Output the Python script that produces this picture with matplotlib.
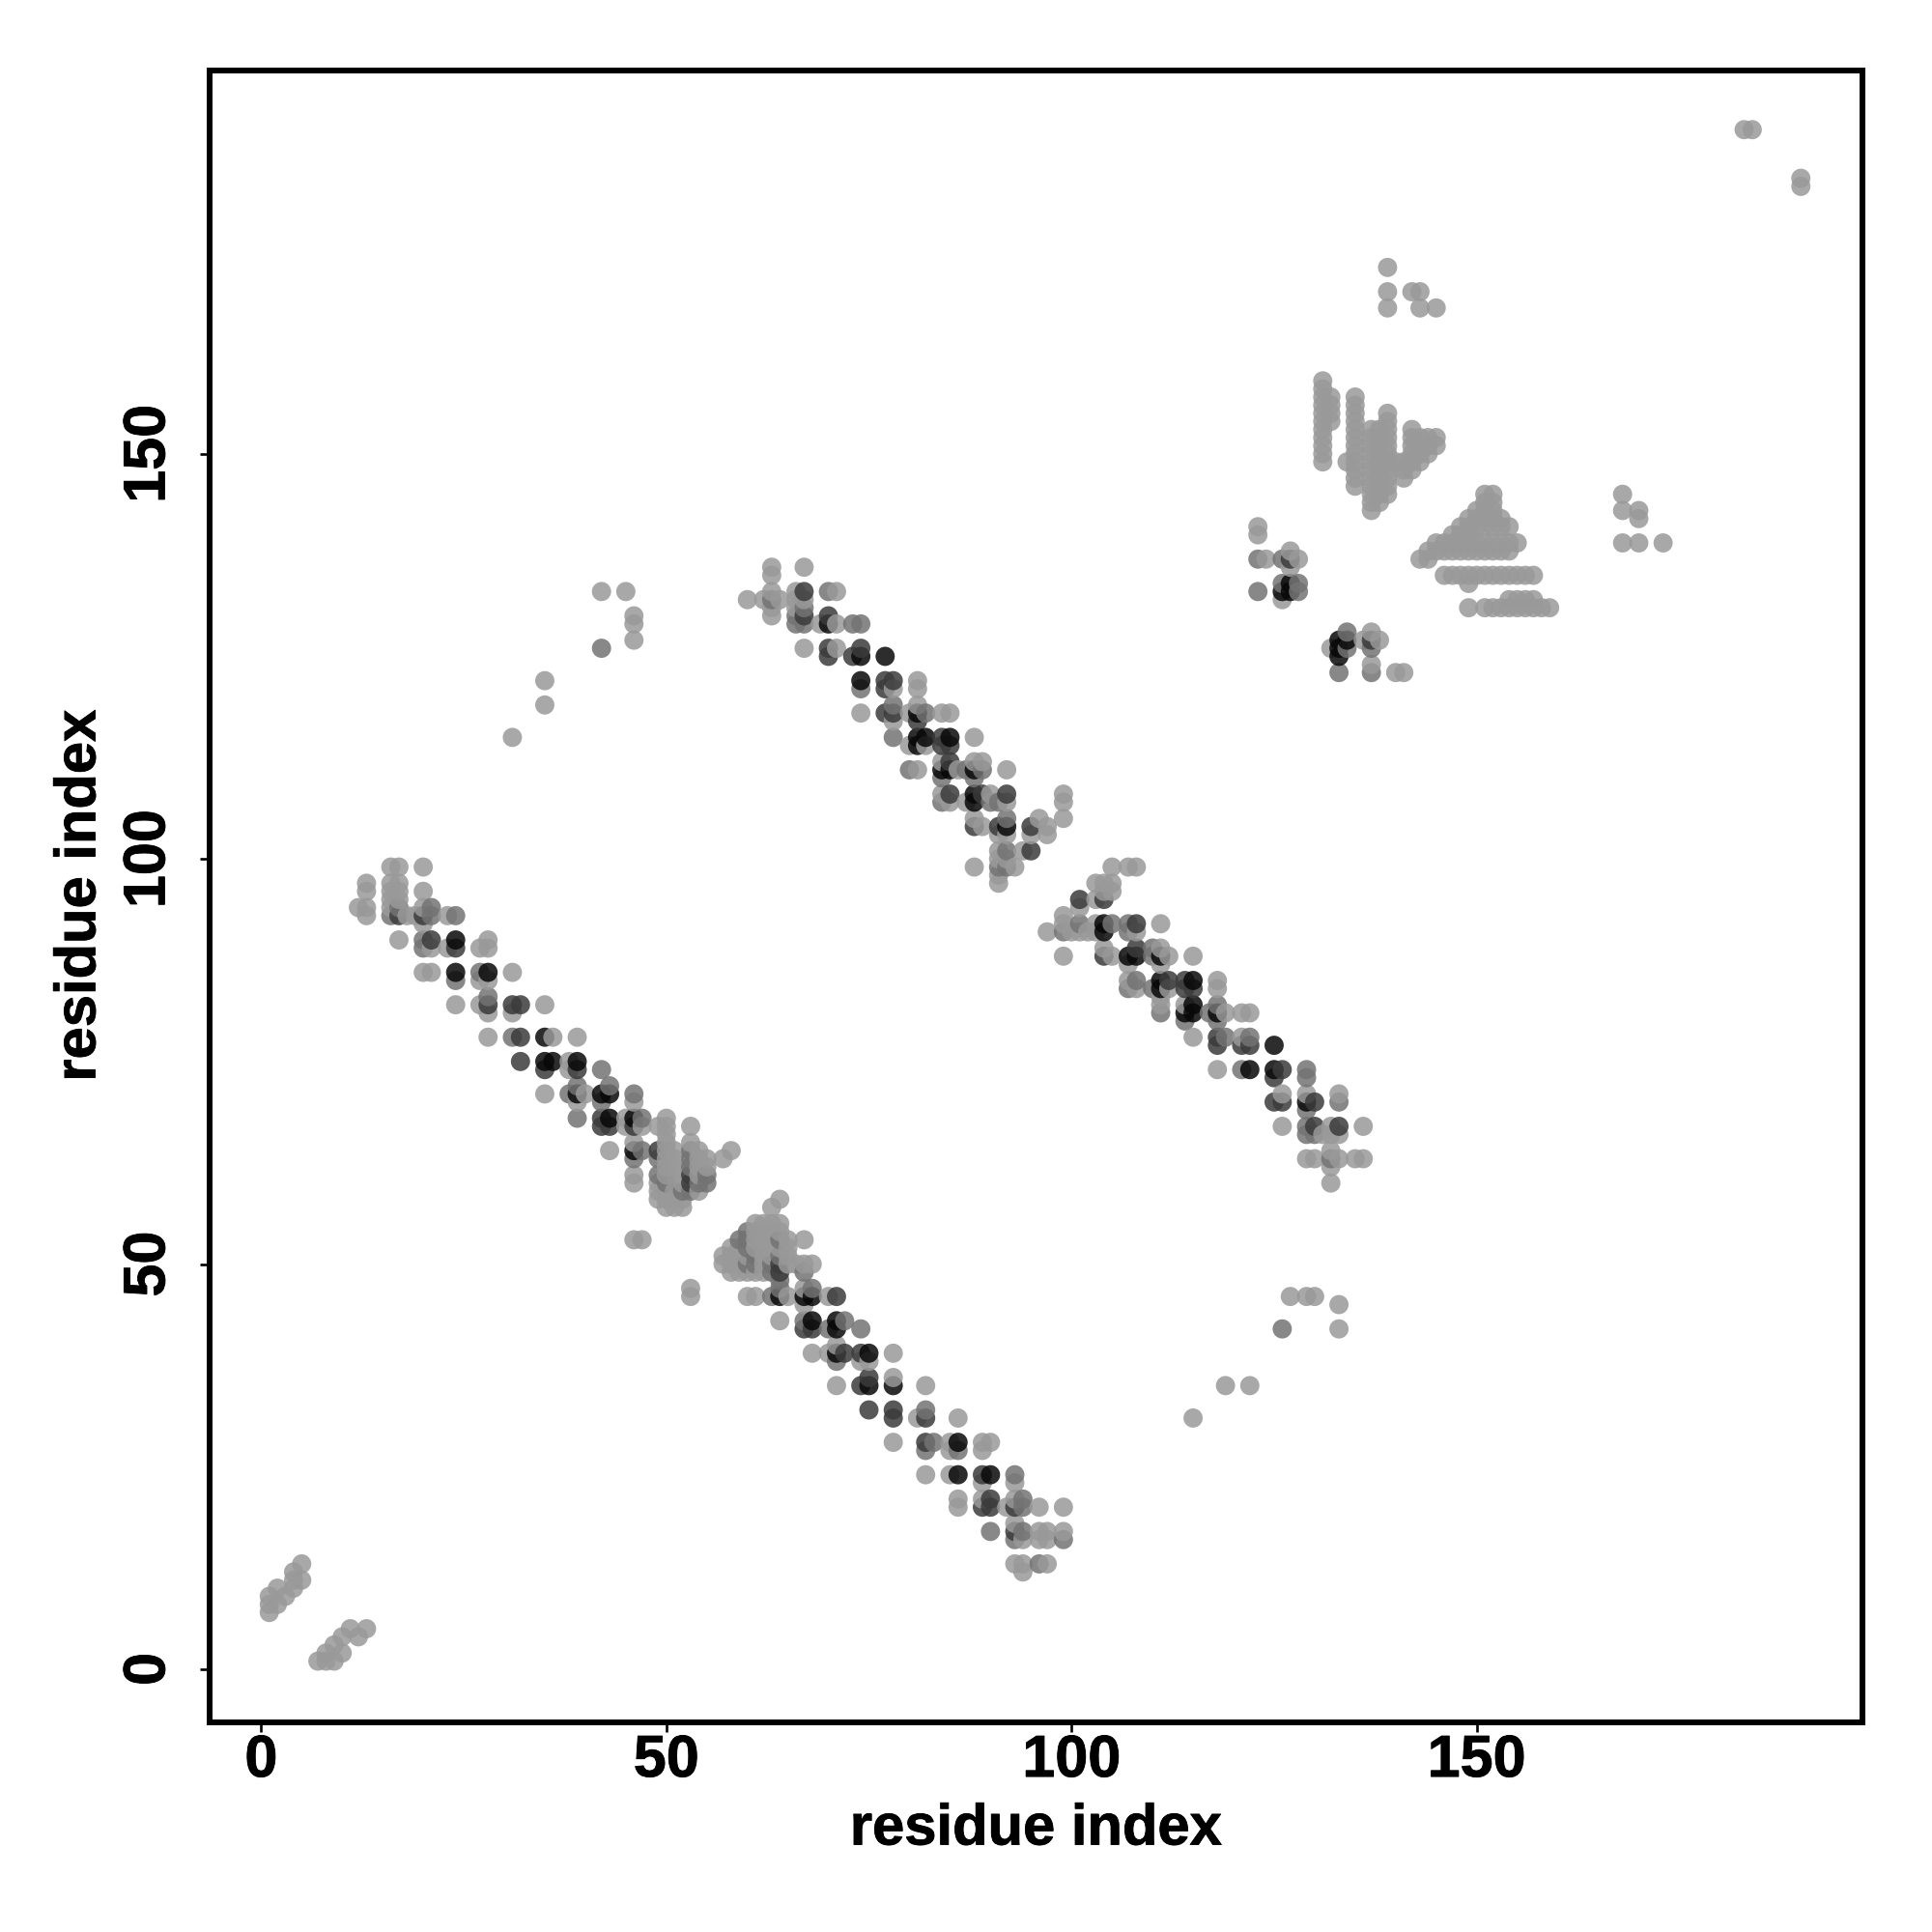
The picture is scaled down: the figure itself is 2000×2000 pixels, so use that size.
import matplotlib
matplotlib.use("Agg")
import matplotlib.pyplot as plt
import matplotlib.patheffects as pe

plt.rcParams['font.family'] = ['Liberation Sans', 'DejaVu Sans']

# ---- data: each row is one y value, its x values and a darkness code per point ----
strand1_y = [99, 97, 96, 95, 94, 93, 92, 90, 89, 86, 85, 83, 82, 81, 78, 75, 74, 72, 71, 70, 68, 67,
             66, 65, 64, 63, 62, 61, 60, 59, 58, 57, 53, 47, 46]
strand1_x = [[16, 17, 20], [13, 16, 17], [13, 16, 17, 20], [16, 17], [12, 13, 16, 17, 20, 21],
             [13, 16, 17, 18, 19, 20, 21, 23, 24], [20], [17, 20, 21, 24, 28], [20, 21, 23, 24, 27, 28],
             [20, 21, 24, 27, 28, 31], [24, 27, 28], [28], [24, 27, 28, 31, 32, 35], [28, 31],
             [28, 31, 32, 35, 36, 39], [32, 35, 36, 38, 39], [35, 38, 39, 42], [39, 43],
             [35, 38, 39, 40, 42, 43, 46], [39, 42, 46], [39, 42, 43, 45, 46, 47, 50],
             [42, 43, 45, 46, 47, 49, 50, 53], [50], [46, 50, 53], [43, 46, 47, 49, 50, 51, 53, 54, 58],
             [46, 49, 50, 51, 53, 54, 55, 57], [50, 51, 53, 54, 55], [46, 49, 50, 52, 53, 54, 55],
             [46, 49, 50, 52, 53, 54, 55], [49, 50, 51, 52, 53, 54], [49, 50, 51, 52], [50, 51, 52],
             [46, 47], [53], [53]]
strand1_tone = ["LLL", "LLL", "LLLL", "LL", "LLLMLM", "LMDLLDMLM", "L", "LMDKL", "MLLDLL", "LLKMKL", "MLL", "M",
                "LLDDDL", "LL", "LMDKLL", "DKKLK", "DLDM", "MM", "LMKLKKM", "LML", "MDKLKML",
                "DDLDLLLL", "L", "LLL", "LKMDLLMLL", "MMLLMLLL", "LLMLL", "LMLLDLM", "LLMLDMM", "LLLMML", "LLLL", "LLL",
                "LL", "L", "L"]

strand2_y = [58, 57, 55, 54, 53, 52, 51, 50, 49, 48, 47, 46, 45, 43, 42, 40, 39, 38, 36, 35, 32, 31, 28, 27,
             24, 23, 21, 20, 18, 17, 16, 13, 12]
strand2_x = [[64], [63], [61, 62, 63, 64], [60, 61, 62, 63, 64], [59, 60, 61, 62, 63, 64, 65, 67],
             [58, 59, 60, 61, 62, 63, 64, 65], [57, 58, 59, 60, 61, 62, 63, 64, 65],
             [57, 58, 59, 60, 61, 62, 63, 64, 65, 66, 67, 68], [58, 59, 60, 61, 62, 63, 64, 67], [64],
             [64, 67, 68], [60, 61, 63, 64, 65, 67, 68, 70, 71], [67], [64, 67, 68, 71, 72],
             [67, 68, 70, 71, 74], [71], [68, 70, 71, 72, 74, 75, 78], [71, 74, 75], [75, 78],
             [71, 74, 75, 78, 82], [75, 78, 82], [78, 81, 82, 86], [78, 82, 83, 85, 86, 89, 90],
             [82, 85, 86, 89], [82, 85, 86, 89, 90, 93], [89, 93], [86, 89, 90, 93, 94],
             [86, 89, 90, 92, 93, 94, 96, 99], [93], [90, 93, 94, 96, 97, 99], [93, 94, 96, 97, 99],
             [93, 94, 96, 97], [94]]
strand2_tone = ["L", "L", "LLLL", "MLLLL", "MMLLLMLL", "LLMLLLLL", "LLLLMLLML", "LLLMMLMDLLLL", "LLLLLMDM", "M",
                "MLM", "LLMKLKKLD", "L", "LMKKM", "DDMKM", "L", "LLKDDKL", "MLL", "DL", "LDKKL", "DDM", "DLDL",
                "LDMLKLL", "MLML", "LLKDKM", "LL", "LLDLM", "LDDLDMLL", "L", "MDMLLL", "MLLLM", "LLML", "L"]

strand3_y = [136, 135, 133, 132, 131, 130, 129, 126, 125, 122, 121, 119, 118, 117, 115, 114, 112, 111, 110,
             108, 107, 105, 104, 103, 101, 100, 99, 98, 97]
strand3_x = [[63, 67], [63], [63, 66, 67, 70, 71], [60, 62, 63, 64, 66, 67], [63, 66, 67], [63, 66, 67, 70],
             [66, 67, 69, 70, 71, 73, 74], [67, 70, 71, 74], [70, 73, 74, 77], [74, 77, 78, 81],
             [74, 77, 78, 81], [78, 81], [74, 77, 78, 80, 81, 82, 84, 85], [78, 81],
             [78, 81, 82, 84, 85, 88], [80, 81, 82, 84, 85], [84, 85, 88, 89],
             [80, 81, 84, 85, 86, 87, 88, 89, 92], [84, 88], [84, 85, 88, 89, 90, 92, 99],
             [84, 85, 87, 88, 90, 91, 92, 99], [88, 92, 96, 99], [88, 89, 91, 92, 95, 97],
             [91, 92, 95, 97], [91, 92, 94, 95], [91, 92], [88, 91, 92, 93], [91], [91]]
strand3_tone = ["LL", "L", "LLDML", "LLMLLL", "LLM", "LMDD", "MMLKLMM", "LDLD", "DDKK", "KDDL", "MDLL", "ML",
                "LDDLKMLL", "LD", "MKKDKL", "LKLDD", "LDLL", "MLKKLMKML", "MM", "LDKDLDL", "MLLKMMLL",
                "LMLL", "DLDKDL", "LLLL", "LMLD", "LL", "LMML", "L", "L"]

strand4_y = [99, 97, 96, 95, 94, 93, 92, 91, 89, 88, 87, 85, 84, 83, 82, 81, 80, 78, 77, 74, 73, 71, 70, 69,
             67, 66, 64, 63, 62, 60]
strand4_x = [[105, 107, 108], [103, 104, 105], [104, 105], [101, 103, 104], [101], [99],
             [99, 101, 103, 104, 105, 107, 108, 111], [97, 99, 100, 101, 102, 103, 104, 107, 108],
             [104, 108, 110, 111], [99, 104, 105, 107, 108, 110, 111, 112, 115], [107, 111],
             [107, 108, 111, 112, 114, 115, 118], [107, 108, 110, 111, 112, 114, 115, 118], [111],
             [111, 114, 115, 118], [111, 114, 115, 117, 118, 119, 121, 122], [114, 118],
             [115, 118, 119, 121, 122], [118, 121, 122, 125], [118, 121, 122, 125, 126, 129], [125, 129],
             [126, 129, 133], [125, 126, 129, 130, 133], [129], [126, 129, 130, 132, 133, 136],
             [129, 130, 131, 132, 133], [132], [129, 130, 132, 133, 135, 136], [132], [132]]
strand4_tone = ["LLL", "LLL", "LL", "DLD", "L", "L", "LMLKMMDL", "LMLLLLKML", "LDML", "LDLKKMKLL", "LL",
                "LMKDDKL", "MLMKLDDL", "L", "LLKM", "MKKMKLLL", "MM", "LDMLM", "DDDK", "LMKKDM", "DM",
                "LLL", "DDKDM", "M", "LMDLDL", "MMLLL", "L", "LLMLLL", "L", "L"]

corner_y = [190, 184, 183, 173, 170, 168, 145, 143, 142, 139]
corner_x = [[183, 184], [190], [190], [139], [139, 142, 143], [139, 143, 145], [168], [168, 170], [170],
            [168, 170, 173]]

sparse_y = [133, 130, 129, 127, 126, 122, 119, 115, 46, 45, 42, 35, 31]
sparse_x = [[42, 45], [46], [46], [46], [42], [35], [35], [31], [127, 129, 130], [133], [126, 133], [119, 122], [115]]
sparse_tone = ["LL", "L", "L", "L", "M", "L", "L", "L", "LLL", "L", "ML", "LL", "L"]

cluster_y = [141, 140, 138, 137, 136, 134, 133, 132, 128, 127, 126, 125, 124, 123]
cluster_x = [[123], [123], [127], [123, 124, 126, 127, 128], [127], [126, 127, 128], [123, 126, 127, 128],
             [126], [134, 137], [133, 134, 136, 137, 138], [132, 133, 134, 137], [133], [137],
             [133, 137, 140, 141]]
cluster_tone = ["L", "L", "L", "MLMDL", "L", "MKM", "MKKM", "L", "ML", "KKLDL", "LKMM", "K", "L", "MMLL"]

# vertical stacks of contacts
stack_x = [131, 132, 134, 135, 137, 138, 139, 140, 141, 142, 143, 144, 145]
stack_y = [[159, 158, 157, 156, 155, 154, 153, 152, 151, 150, 149], [157, 156, 155, 154], [149],
           [157, 156, 155, 154, 153, 152, 151, 150, 149, 148, 147, 146],
           [153, 152, 151, 150, 149, 148, 147, 146, 145, 144, 143],
           [153, 152, 151, 150, 149, 148, 147, 146, 145, 144],
           [155, 154, 153, 152, 151, 150, 149, 148, 147, 146, 145], [149],
           [149, 148, 147], [153, 152, 151, 150, 149, 148], [152, 151, 150, 149], [152, 151, 150], [152, 151]]

# horizontal stacks of contacts
band_y = [145, 144, 143, 142, 141, 140, 139, 138, 137, 135, 134, 132, 131]
band_x = [[151, 152], [151, 152], [150, 151, 152], [149, 150, 151, 152, 153],
          [148, 149, 150, 151, 152, 153, 154], [147, 148, 149],
          [145, 146, 147, 148, 149, 150, 151, 152, 153, 154, 155],
          [144, 145, 146, 147, 148, 149, 150, 151, 152, 153, 154], [143, 144],
          [146, 147, 148, 149, 150, 151, 152, 153, 154, 155, 156, 157], [149],
          [154, 155, 156, 157], [149, 151, 152, 153, 154, 155, 156, 157, 158, 159]]

tiny_x = [5, 4, 5, 4, 4, 3, 2, 1, 1, 1, 2, 13, 11, 12, 10, 9, 10, 8, 7, 8, 9]
tiny_y = [13, 12, 11, 11, 10, 9, 10, 9, 8, 7, 8, 5, 5, 4, 4, 3, 2, 2, 1, 1, 1]

tick_values = [0, 50, 100, 150]
axis_label = "residue index"

tone_gray = {"L": 0.60, "M": 0.45, "D": 0.23, "K": 0.03}

points = []
for ys, xs, tones in [(strand1_y, strand1_x, strand1_tone), (strand2_y, strand2_x, strand2_tone),
                      (strand3_y, strand3_x, strand3_tone), (strand4_y, strand4_x, strand4_tone),
                      (sparse_y, sparse_x, sparse_tone), (cluster_y, cluster_x, cluster_tone)]:
    for y, row, tone in zip(ys, xs, tones):
        for x, t in zip(row, tone):
            points.append((x, y, t))
for y, row in zip(corner_y, corner_x):
    points += [(x, y, "L") for x in row]
for y, row in zip(band_y, band_x):
    points += [(x, y, "L") for x in row]
for x, col in zip(stack_x, stack_y):
    points += [(x, y, "L") for y in col]
points += [(x, y, "L") for x, y in zip(tiny_x, tiny_y)]
points.sort(key=lambda p: (p[0], p[1]))

fig = plt.figure(figsize=(20, 20), dpi=100, facecolor="white")
ax = fig.add_axes([217 / 2000, 1 - 1783 / 2000, (1928 - 217) / 2000, (1783 - 73) / 2000])
ax.scatter([p[0] for p in points], [p[1] for p in points],
           c=[str(tone_gray[p[2]]) for p in points], s=205, alpha=0.85, linewidths=0, zorder=3)
ax.set_xlim(-6.36, 197.6)
ax.set_ylim(-6.56, 197.3)
ax.set_xticks(tick_values)
ax.set_yticks(tick_values)
for s in ax.spines.values():
    s.set_linewidth(4.3)
heavy = [pe.withStroke(linewidth=0.6, foreground="black")]
ax.tick_params(axis="both", length=7.2, width=1.9, color="black", labelsize=44)
ax.tick_params(axis="x", pad=1.5)
ax.tick_params(axis="y", pad=17)
for lab in ax.get_xticklabels():
    lab.set_fontweight("bold")
    lab.set_path_effects(heavy)
for lab in ax.get_yticklabels():
    lab.set_fontweight("bold")
    lab.set_rotation(90)
    lab.set_va("center")
    lab.set_path_effects(heavy)
fig.text((217 + 1928) / 4000, 1 - 1894 / 2000, axis_label, ha="center", va="center", fontsize=43,
         fontweight="bold", path_effects=heavy)
fig.text(83 / 2000, 1 - 927 / 2000, axis_label, ha="center", va="center", rotation=90, fontsize=43,
         fontweight="bold", path_effects=heavy)
fig.savefig("out.png", dpi=100, facecolor="white")
